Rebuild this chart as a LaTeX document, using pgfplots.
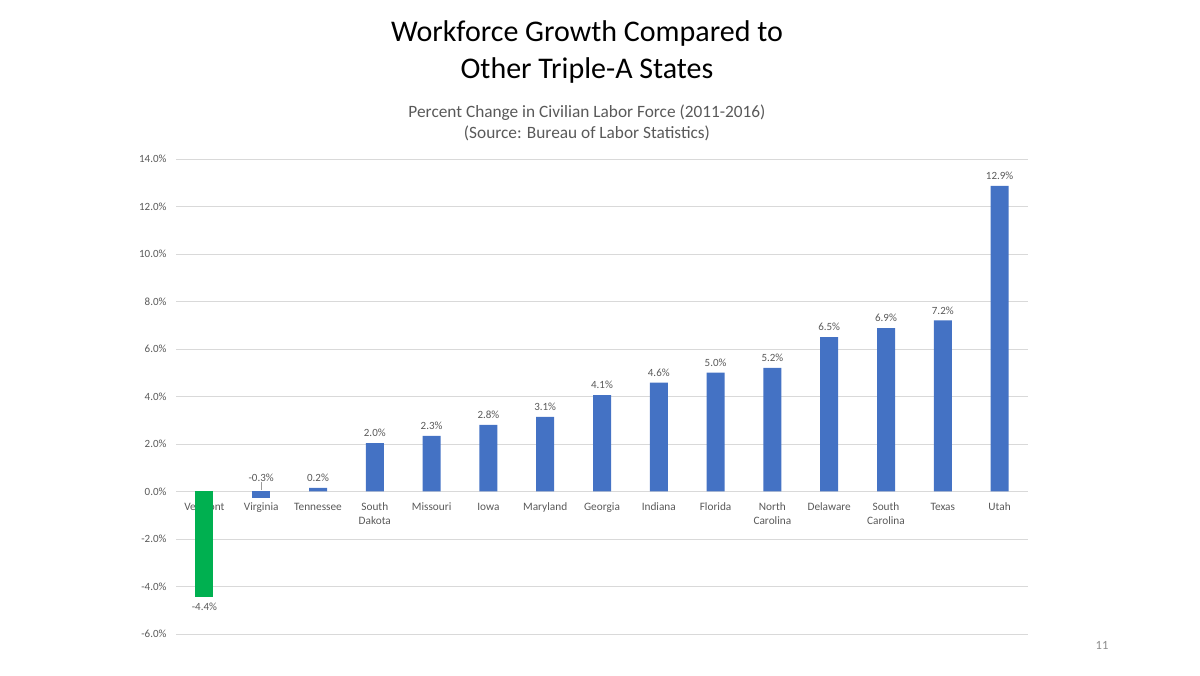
\documentclass[border=0pt]{standalone}
\usepackage{pgfplots}
\pgfplotsset{compat=1.18}
\usepackage{pgfplotstable}
\usepackage{fontspec}
\setmainfont{Carlito}
\definecolor{barblue}{HTML}{4472C4}
\definecolor{bargreen}{HTML}{00B050}
\definecolor{txtgray}{HTML}{595959}
\definecolor{gridgray}{HTML}{D9D9D9}
\definecolor{pagegray}{HTML}{8C8C8C}

\pgfplotstableread{
x y lab
0 -4.44 -4.4\%
}\greentab

\pgfplotstableread{
x y lab
1 -0.27 -0.3\%
}\virgtab

\pgfplotstableread{
x y lab
2 0.15 0.2\%
3 2.04 2.0\%
4 2.34 2.3\%
5 2.80 2.8\%
6 3.14 3.1\%
7 4.06 4.1\%
8 4.58 4.6\%
9 5.01 5.0\%
10 5.21 5.2\%
11 6.50 6.5\%
12 6.88 6.9\%
13 7.20 7.2\%
14 12.87 12.9\%
}\bluetab

\begin{document}
\begin{tikzpicture}
\path (0pt,0pt) rectangle (1200pt,676pt);
\node[align=center, font=\fontsize{30}{37}\selectfont, text=black] at (587pt,624pt) {Workforce Growth Compared to\\Other Triple-A States};
\node[align=center, font=\fontsize{17.3}{20.5}\selectfont, text=txtgray] at (587pt,553pt) {Percent Change in Civilian Labor Force (2011-2016)\\(Source: Bureau of Labor Statistics)};
\node[font=\fontsize{12.5}{14}\selectfont, text=pagegray] at (1102pt,31pt) {11};
\begin{axis}[
  set layers,
  at={(176pt,42pt)}, anchor=south west,
  scale only axis, width=852pt, height=475pt,
  xmin=-0.5, xmax=14.5, ymin=-6, ymax=14,
  axis x line=middle, axis y line=left,
  axis line style={-},
  x axis line style={draw=gridgray, line width=0.75pt},
  y axis line style={draw=none},
  major tick length=0pt,
  ymajorgrids, major grid style={draw=gridgray, line width=0.75pt},
  ytick={-6,-4,...,14},
  /pgf/number format/assume math mode=true,
  yticklabel={\pgfmathprintnumber[fixed,fixed zerofill,precision=1]{\tick}\%},
  yticklabel style={text=txtgray, font=\fontsize{11}{12}\selectfont, xshift=-6pt},
  xtick={0,...,14},
  xticklabels={Vermont, Virginia, Tennessee, {South\\Dakota}, Missouri, Iowa, Maryland, Georgia, Indiana, Florida, {North\\Carolina}, Delaware, {South\\Carolina}, Texas, Utah},
  typeset ticklabels with strut,
  xticklabel style={align=center, text=txtgray, font=\fontsize{11.3}{14}\selectfont, yshift=-6pt},
  ybar, bar width=18pt, bar shift=0pt,
  point meta=explicit symbolic,
  every node near coord/.append style={text=txtgray, font=\fontsize{11}{12}\selectfont},
  clip=false,
]
\addplot[fill=bargreen, draw=none, nodes near coords,
  nodes near coords align={anchor=north},
  every node near coord/.append style={yshift=-3pt}] table[x=x, y=y, meta=lab] {\greentab};
\addplot[fill=barblue, draw=none, nodes near coords,
  nodes near coords align={anchor=south},
  every node near coord/.append style={yshift=13pt}] table[x=x, y=y, meta=lab] {\virgtab};
\addplot[fill=barblue, draw=none, nodes near coords,
  every node near coord/.append style={yshift=2.5pt}] table[x=x, y=y, meta=lab] {\bluetab};
\draw[txtgray!60, line width=0.5pt] (axis cs:1,0.05) -- (axis cs:1,0.42);
\end{axis}
\end{tikzpicture}
\end{document}
